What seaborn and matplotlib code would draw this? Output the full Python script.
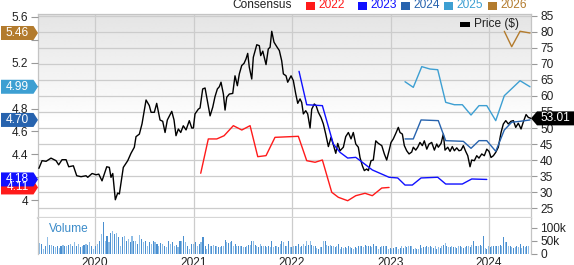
import numpy as np
import pandas as pd
import matplotlib
matplotlib.use("Agg")
import matplotlib.pyplot as plt
import matplotlib.transforms as mtrans
from matplotlib.patches import Polygon, Rectangle
import seaborn as sns

# ---------------- data ----------------
price_t = [2019.430, 2019.462, 2019.503, 2019.553, 2019.604, 2019.631, 2019.665, 2019.706, 2019.733, 2019.780,
           2019.814, 2019.858, 2019.909, 2019.926, 2019.970, 2020.010, 2020.038, 2020.071, 2020.119, 2020.145,
           2020.162, 2020.180, 2020.206, 2020.230, 2020.247, 2020.287, 2020.332, 2020.365, 2020.399, 2020.416,
           2020.450, 2020.477, 2020.518, 2020.551, 2020.569, 2020.602, 2020.626, 2020.660, 2020.687, 2020.711,
           2020.734, 2020.779, 2020.802, 2020.822, 2020.846, 2020.870, 2020.896, 2020.924, 2020.957, 2020.982,
           2020.998, 2021.015, 2021.049, 2021.066, 2021.093, 2021.117, 2021.134, 2021.168, 2021.195, 2021.218,
           2021.242, 2021.262, 2021.279, 2021.303, 2021.320, 2021.337, 2021.363, 2021.398, 2021.421, 2021.445,
           2021.465, 2021.489, 2021.513, 2021.533, 2021.550, 2021.566, 2021.591, 2021.607, 2021.642, 2021.668,
           2021.682, 2021.703, 2021.736, 2021.759, 2021.777, 2021.794, 2021.817, 2021.845, 2021.871, 2021.895,
           2021.912, 2021.939, 2021.956, 2021.990, 2022.013, 2022.038, 2022.058, 2022.081, 2022.098, 2022.115,
           2022.139, 2022.159, 2022.183, 2022.200, 2022.226, 2022.244, 2022.267, 2022.294, 2022.318, 2022.342,
           2022.369, 2022.396, 2022.419, 2022.444, 2022.464, 2022.487, 2022.521, 2022.545, 2022.572, 2022.599,
           2022.622, 2022.647, 2022.673, 2022.690, 2022.714, 2022.734, 2022.758, 2022.775, 2022.802, 2022.825,
           2022.850, 2022.876, 2022.911, 2022.937, 2022.961, 2022.985, 2023.005, 2023.028, 2023.053, 2023.079,
           2023.096, 2023.120, 2023.140, 2023.164, 2023.188, 2023.215, 2023.231, 2023.256, 2023.276, 2023.299,
           2023.323, 2023.343, 2023.368, 2023.391, 2023.418, 2023.445, 2023.469, 2023.485, 2023.513, 2023.536,
           2023.553, 2023.581, 2023.604, 2023.627, 2023.648, 2023.672, 2023.695, 2023.716, 2023.739, 2023.763,
           2023.784, 2023.807, 2023.824, 2023.851, 2023.875, 2023.898, 2023.926, 2023.952, 2023.977, 2024.000,
           2024.020, 2024.044, 2024.068, 2024.094, 2024.122, 2024.145, 2024.170, 2024.196, 2024.223, 2024.247,
           2024.271, 2024.297, 2024.325, 2024.348, 2024.376, 2024.399, 2024.426]
price_v = [37.4, 39.8, 39.6, 40.6, 39.8, 38.5, 40.1, 40.1, 37.9, 38.2,
           35.1, 34.8, 35.1, 34.6, 35.8, 35.4, 35.6, 33.5, 37.9, 37.7,
           34.6, 35.8, 27.6, 29.7, 29.4, 37.7, 39.8, 42.1, 44.0, 47.3,
           48.1, 51.3, 58.75, 57.0, 54.9, 54.9, 57.7, 52.5, 52.1, 48.6,
           52.5, 55.2, 52.5, 47.6, 49.7, 48.6, 50.7, 49.4, 52.3, 50.0,
           50.0, 54.4, 55.9, 56.25, 62.2, 62.5, 59.6, 53.8, 56.5, 59.8,
           62.2, 62.9, 64.3, 60.6, 55.6, 59.6, 60.6, 60.8, 66.3, 63.2,
           66.9, 69.5, 70.2, 71.6, 73.3, 69.0, 65.3, 72.1, 76.0, 75.7,
           72.6, 74.0, 69.8, 74.7, 75.2, 80.2, 76.8, 75.4, 74.2, 71.0,
           66.9, 66.3, 64.3, 66.3, 64.8, 60.6, 57.7, 59.1, 58.0, 54.4,
           55.4, 54.4, 50.0, 55.9, 57.5, 57.0, 54.9, 53.3, 51.25, 48.1,
           44.2, 47.1, 44.8, 42.1, 45.2, 42.9, 44.0, 47.3, 48.6, 46.6,
           48.6, 45.0, 44.0, 40.8, 38.2, 36.7, 37.2, 36.7, 39.8, 40.0,
           46.0, 45.2, 44.5, 41.9, 40.0, 42.9, 45.5, 46.6, 48.3, 50.2,
           48.6, 48.1, 44.5, 42.9, 41.9, 42.5, 44.0, 43.1, 44.0, 45.5,
           44.5, 46.0, 43.4, 45.0, 45.5, 43.1, 45.0, 44.0, 45.2, 48.1,
           43.1, 44.0, 42.7, 44.2, 42.9, 43.8, 42.9, 43.1, 44.5, 42.7,
           41.35, 37.9, 40.0, 39.8, 41.35, 40.6, 41.9, 41.35, 43.4, 42.7,
           40.8, 41.35, 42.4, 44.0, 48.6, 51.25, 52.3, 51.25, 52.1, 52.3,
           50.2, 51.5, 49.7, 51.9, 54.2, 53.3, 53.01]

c2022_t = [2021.073, 2021.150, 2021.236, 2021.310, 2021.404, 2021.490, 2021.574, 2021.652, 2021.736, 2021.827,
           2022.064, 2022.149, 2022.234, 2022.308, 2022.403, 2022.470, 2022.565, 2022.647, 2022.741, 2022.815,
           2022.911, 2022.985]
c2022_v = [4.234, 4.534, 4.534, 4.562, 4.650, 4.612, 4.650, 4.379, 4.388, 4.548,
           4.557, 4.344, 4.330, 4.350, 4.068, 4.024, 3.994, 4.038, 4.059, 4.038,
           4.105, 4.11]

c2023_t = [2022.071, 2022.149, 2022.308, 2022.419, 2022.487, 2022.565, 2022.647, 2022.714, 2022.815, 2022.985,
           2023.073, 2023.147, 2023.221, 2023.310, 2023.479, 2023.560, 2023.729, 2023.824, 2023.977]
c2023_v = [5.125, 4.833, 4.825, 4.490, 4.417, 4.367, 4.373, 4.330, 4.263, 4.199,
           4.193, 4.131, 4.131, 4.193, 4.199, 4.140, 4.140, 4.184, 4.18]

c2024_t = [2023.147, 2023.231, 2023.310, 2023.485, 2023.560, 2023.739, 2023.817, 2023.898, 2023.977, 2024.068,
           2024.155, 2024.230, 2024.315, 2024.416]
c2024_v = [4.534, 4.534, 4.700, 4.694, 4.519, 4.513, 4.452, 4.519, 4.519, 4.426,
           4.612, 4.680, 4.688, 4.70]

c2025_t = [2023.147, 2023.231, 2023.317, 2023.401, 2023.479, 2023.560, 2023.648, 2023.729, 2023.817, 2023.898,
           2023.977, 2024.068, 2024.155, 2024.237, 2024.315, 2024.416]
c2025_v = [5.034, 4.985, 5.166, 5.145, 5.139, 4.854, 4.833, 4.833, 4.743, 4.825,
           4.825, 4.694, 4.912, 4.979, 5.043, 4.99]

c2026_t = [2024.155, 2024.230, 2024.315, 2024.416]
c2026_v = [5.475, 5.340, 5.475, 5.46]

# weekly volume (thousands), three stretches with their time spans
vol_a_span = (2019.421, 2021.096)
vol_a = [48, 42, 39, 20, 32, 66, 36, 36, 32, 26, 32, 22, 32, 36, 29, 32, 36, 39, 32, 45,
         32, 39, 26, 32, 36, 39, 35, 45, 32, 20, 32, 39, 48, 76, 122, 48, 70, 45, 80, 89,
         76, 82, 64, 32, 64, 68, 51, 58, 45, 70, 48, 51, 39, 72, 58, 45, 51, 32, 45, 39,
         48, 45, 39, 32, 42, 39, 32, 26, 48, 39, 45, 32, 35, 26, 51, 48, 68, 45, 32, 20,
         39, 39, 45, 32, 39, 45, 64]
vol_b_span = (2021.117, 2022.775)
vol_b = [32, 20, 39, 32, 32, 36, 32, 29, 26, 26, 29, 29, 55, 45, 41, 45, 51, 32, 39, 32,
         32, 29, 32, 26, 26, 32, 36, 36, 51, 51, 36, 29, 26, 39, 29, 32, 29, 26, 29, 26,
         48, 26, 32, 32, 26, 39, 51, 45, 29, 32, 48, 26, 26, 32, 29, 32, 39, 26, 32, 39,
         29, 48, 36, 51, 36, 32, 29, 22, 20, 26, 26, 48, 51, 36, 32, 36, 32, 32, 26, 32,
         39, 20, 26, 22, 26, 24, 32, 26, 22, 20, 26, 24, 32, 29, 32, 26, 36, 32, 29]
vol_c_span = (2022.792, 2024.399)
vol_c = [32, 26, 39, 32, 29, 20, 26, 32, 29, 32, 29, 20, 22, 20, 22, 26, 26, 20, 22, 29,
         22, 32, 26, 32, 29, 32, 20, 22, 20, 20, 36, 22, 26, 26, 29, 26, 29, 26, 22, 29,
         20, 26, 22, 29, 36, 41, 32, 26, 26, 29, 26, 26, 22, 29, 32, 26, 22, 26, 29, 32,
         26, 36, 48, 29, 32, 32, 36, 29, 68, 22, 20, 29, 26, 32, 29, 32, 29, 32, 36, 29,
         64, 45, 45, 32, 29, 26, 22, 26, 29, 26, 39, 22, 29, 26, 29, 32]

years = [2020, 2021, 2022, 2023, 2024]
price_ticks = [25, 30, 35, 40, 45, 50, 55, 60, 65, 70, 75, 80, 85]
eps_ticks = [4.0, 4.2, 4.4, 4.6, 4.8, 5.0, 5.2, 5.4, 5.6]
# labels hidden under the value tags in the reference are left blank
eps_labels = ["4", "", "4.4", "4.6", "4.8", "", "5.2", "", "5.6"]
vol_ticks = [0, 50, 100]
vol_labels = ["0", "50k", "100k"]

series = [("2022", c2022_t, c2022_v, "#ff1a1a"),
          ("2023", c2023_t, c2023_v, "#1010ff"),
          ("2024", c2024_t, c2024_v, "#2763ae"),
          ("2025", c2025_t, c2025_v, "#3d9fd2"),
          ("2026", c2026_t, c2026_v, "#b37b2d")]
last_price = 53.01

# ---------------- style ----------------
sns.set_theme(style="white")
plt.rcParams['font.family'] = ['Liberation Sans', 'DejaVu Sans']
FS = 8.6
GRID = "#cccccc"
SPINE = "#c4c4c4"
W, H = 574, 265

fig = plt.figure(figsize=(W / 100, H / 100), dpi=100)


def rect(x0, y0, x1, y1):
    return [x0 / W, 1 - y1 / H, (x1 - x0) / W, (y1 - y0) / H]


ax = fig.add_axes(rect(38, 14, 531, 218))
axv = fig.add_axes(rect(38, 218, 531, 254), sharex=ax)
ax2 = ax.twinx()

# background gradient
grad = np.concatenate([np.linspace(0.895, 1.0, 55), np.ones(45)]).reshape(-1, 1)
ax.imshow(grad, extent=[0, 1, 0, 1], transform=ax.transAxes, aspect="auto",
          cmap="gray", vmin=0, vmax=1, zorder=-5, interpolation="bilinear")

# price line
sns.lineplot(x=price_t, y=price_v, ax=ax, color="black", lw=1.0, estimator=None, zorder=3)

# consensus lines
for name, t, v, col in series:
    sns.lineplot(x=t, y=v, ax=ax2, color=col, lw=1.0, estimator=None)

# volume bars
for span, vals in [(vol_a_span, vol_a), (vol_b_span, vol_b), (vol_c_span, vol_c)]:
    tt = np.linspace(span[0], span[1], len(vals))
    step = (span[1] - span[0]) / (len(vals) - 1)
    cols = ["#4a8fd0" if i % 2 == 0 else "#8fbde6" for i in range(len(vals))]
    axv.bar(tt, vals, width=step * 0.6, color=cols, linewidth=0, zorder=2)

# limits & ticks
ax.set_xlim(2019.421, 2024.426)
ax.set_ylim(21.9, 85.6)
ax2.set_ylim(3.843, 5.626)
axv.set_ylim(0, 138)

ax.set_xticks(years)
ax.tick_params(axis="x", labelbottom=False, length=0)
ax.yaxis.tick_right()
ax.set_yticks(price_ticks)
ax.set_yticklabels([str(p) for p in price_ticks])
ax.tick_params(axis="y", right=True, left=False, length=4.5, width=0.8, color="#999999",
               pad=2, labelsize=FS, labelcolor="#222222")
ax.grid(True, color=GRID, lw=0.9)
ax.set_axisbelow(True)

ax2.yaxis.tick_left()
ax2.set_yticks(eps_ticks)
ax2.set_yticklabels(eps_labels)
ax2.tick_params(axis="y", left=True, right=False, length=5, width=0.8, color="#999999",
                pad=2, labelsize=FS, labelcolor="#222222")
ax2.grid(False)
for s in ax2.spines.values():
    s.set_visible(False)

for name, s in ax.spines.items():
    s.set_color(SPINE)
    s.set_linewidth(0.9)
ax.spines["bottom"].set_linewidth(1.6)
ax.spines["bottom"].set_color("#d6d6d6")

axv.set_xticks(years)
axv.set_xticklabels([str(y) for y in years])
axv.tick_params(axis="x", length=0, pad=2.0, labelsize=FS, labelcolor="#222222")
axv.yaxis.tick_right()
axv.set_yticks(vol_ticks)
axv.set_yticklabels(vol_labels)
axv.tick_params(axis="y", right=True, left=False, length=4.5, width=0.8, color="#999999",
                pad=2, labelsize=FS, labelcolor="#222222")
axv.grid(True, axis="x", color=GRID, lw=0.9)
axv.set_axisbelow(True)
axv.set_facecolor("white")
for name, s in axv.spines.items():
    s.set_color(SPINE)
    s.set_linewidth(0.9)
axv.spines["top"].set_visible(False)
axv.spines["bottom"].set_visible(False)
axv.set_xlabel("")
axv.set_ylabel("")
ax.set_ylabel("")
ax2.set_ylabel("")
ax.set_xlabel("")
ax.set_xlim(2019.421, 2024.426)

axv.text(48.5 / W, 1 - 229 / H, "Volume", transform=fig.transFigure, ha="left", va="center",
         fontsize=FS, color="#3b8bc9")

# ---------------- value tags ----------------
ident = mtrans.IdentityTransform()


def left_tag(v, col, label):
    yd = ax2.transData.transform((ax.get_xlim()[0], v))[1]
    h = 7
    pts = [(1, yd - h), (33.5, yd - h), (38, yd), (33.5, yd + h), (1, yd + h)]
    fig.add_artist(Polygon(pts, closed=True, facecolor=col, edgecolor="none",
                           transform=ident, zorder=10))
    fig.text(17.5 / W, yd / H, label, ha="center", va="center", fontsize=FS,
             color="white", zorder=11)


for name, t, v, col in series:
    left_tag(v[-1], col, f"{v[-1]:.2f}")

yd = ax.transData.transform((ax.get_xlim()[1], last_price))[1]
h = 7
pts = [(531, yd), (537, yd - h), (574, yd - h), (574, yd + h), (537, yd + h)]
fig.add_artist(Polygon(pts, closed=True, facecolor="black", edgecolor="none",
                       transform=ident, zorder=10))
fig.text(555.5 / W, yd / H, f"{last_price:.2f}", ha="center", va="center", fontsize=FS,
         color="white", zorder=11)

# ---------------- legends ----------------
ly = H - 5.5
fig.text(232.5 / W, ly / H, "Consensus", ha="left", va="center", fontsize=FS, color="#222222")
sq_x = [306, 358, 401, 444, 488]
for (name, t, v, col), x0 in zip(series, sq_x):
    fig.add_artist(Rectangle((x0, ly - 4), 9, 8, facecolor=col, edgecolor="none",
                             transform=ident))
    fig.text((x0 + 12) / W, ly / H, name, ha="left", va="center", fontsize=FS, color=col)

py = H - 24.5
fig.add_artist(Rectangle((460, py - 2.5), 10, 5, facecolor="black", edgecolor="none",
                         transform=ident, zorder=10))
fig.text(474 / W, py / H, "Price ($)", ha="left", va="center", fontsize=FS,
         color="#222222", zorder=10)

fig.savefig("out.png", dpi=100)
